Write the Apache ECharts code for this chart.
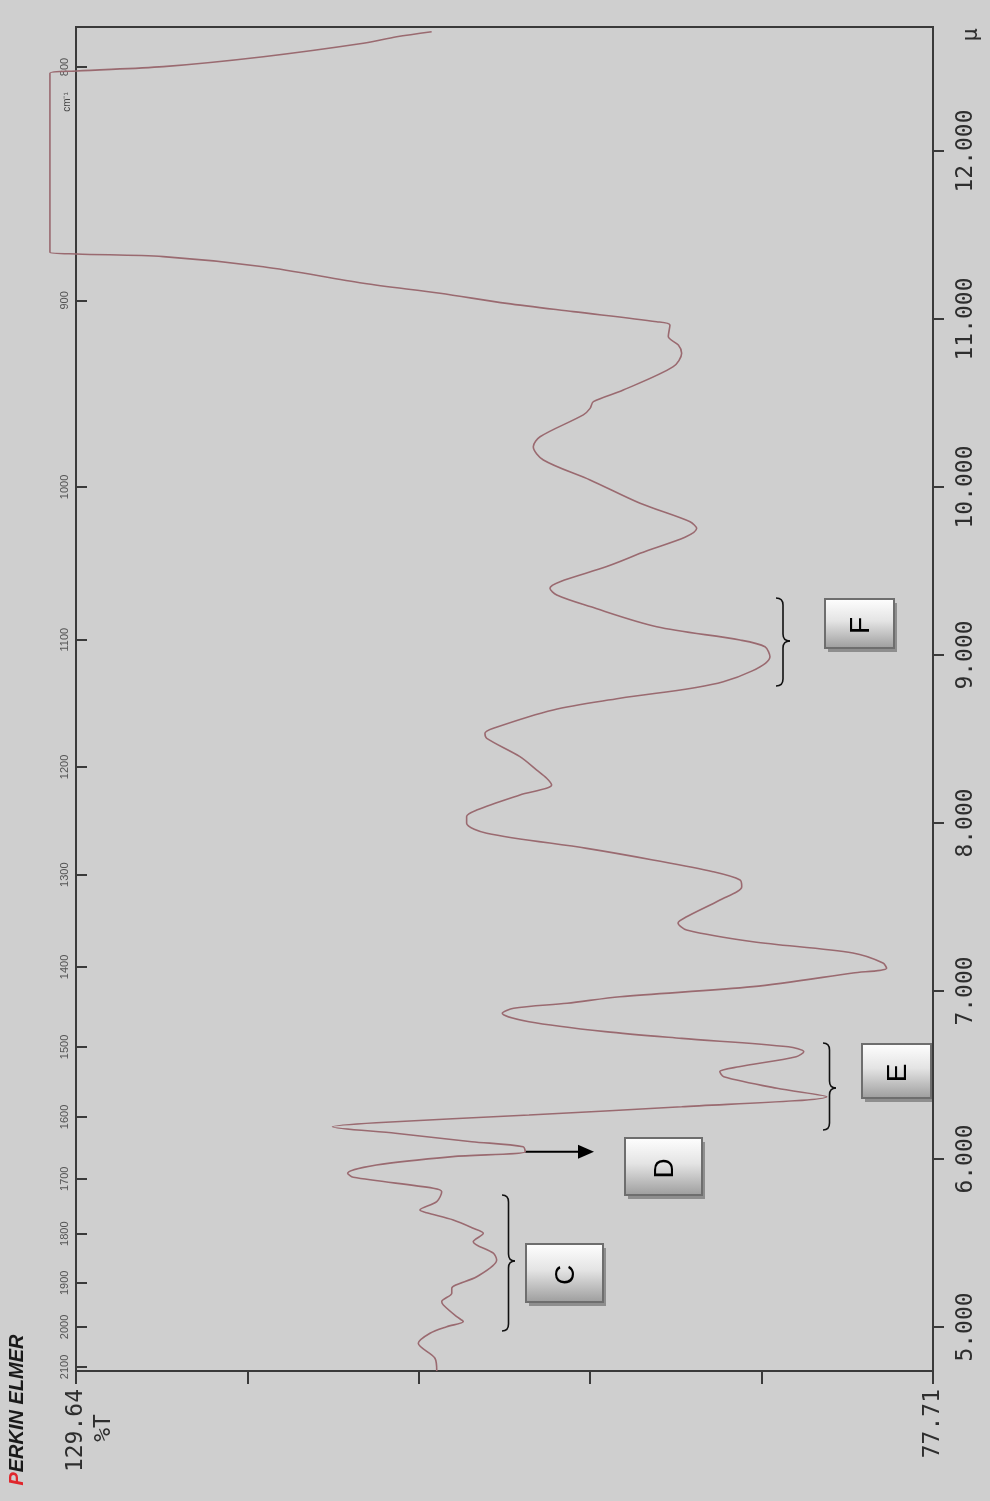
<!DOCTYPE html>
<html>
<head>
<meta charset="utf-8">
<script src="https://cdn.jsdelivr.net/npm/echarts@6/dist/echarts.min.js"></script>
<style>
  html, body { margin: 0; padding: 0; background: #cfcfcf; }
  #chart { width: 990px; height: 1501px; }
</style>
</head>
<body>
<div id="chart"></div>
<script>
// IR transmission spectrum: wavelength (µm) against %T, drawn in portrait orientation.
const wavelength = [
  4.738, 4.814, 4.903, 4.963, 5.002, 5.032, 5.061, 5.131, 5.151, 5.201,
  5.230, 5.299, 5.399, 5.439, 5.508, 5.558, 5.588, 5.637, 5.680, 5.696,
  5.746, 5.805, 5.826, 5.891, 5.915, 5.964, 6.014, 6.043, 6.073, 6.103,
  6.153, 6.192, 6.216, 6.262, 6.311, 6.371, 6.421, 6.490, 6.520, 6.549,
  6.609, 6.639, 6.668, 6.718, 6.758, 6.817, 6.867, 6.897, 6.927, 6.966,
  7.026, 7.107, 7.135, 7.167, 7.226, 7.293, 7.363, 7.405, 7.442, 7.542,
  7.621, 7.661, 7.710, 7.780, 7.849, 7.939, 7.998, 8.038, 8.077, 8.167,
  8.226, 8.266, 8.315, 8.395, 8.504, 8.534, 8.564, 8.673, 8.742, 8.841,
  8.990, 9.049, 9.089, 9.168, 9.288, 9.357, 9.397, 9.436, 9.526, 9.605,
  9.754, 9.793, 9.903, 10.042, 10.161, 10.240, 10.299, 10.429, 10.468, 10.508,
  10.577, 10.716, 10.796, 10.845, 10.895, 10.964, 10.984, 11.044, 11.093, 11.153,
  11.213, 11.311, 11.371, 11.387, 11.397, 12.463, 12.476, 12.502, 12.561, 12.641,
  12.680, 12.710
];
const transmittance = [
  107.78, 107.89, 108.90, 108.19, 107.18, 106.17, 106.57, 107.38, 107.48, 106.87,
  106.87, 105.36, 104.15, 104.35, 105.57, 104.96, 105.57, 106.78, 108.39, 108.80,
  107.78, 107.48, 107.99, 112.84, 113.18, 111.44, 106.81, 102.42, 102.54, 105.66,
  110.29, 114.10, 111.44, 102.19, 92.94, 84.15, 87.16, 90.39, 90.63, 89.47,
  86.00, 85.54, 86.47, 92.94, 97.57, 102.19, 103.81, 103.12, 99.88, 96.68,
  88.62, 82.56, 80.52, 80.74, 82.56, 88.62, 92.64, 93.16, 92.64, 90.62,
  89.30, 89.40, 91.04, 94.68, 98.69, 104.75, 105.97, 105.97, 105.36, 102.74,
  100.82, 101.12, 101.72, 102.74, 104.75, 104.86, 104.35, 100.72, 96.68, 90.42,
  87.59, 87.89, 89.40, 94.45, 98.49, 100.51, 100.92, 100.31, 97.48, 95.46,
  92.03, 92.43, 95.46, 98.49, 101.32, 101.93, 101.52, 98.90, 98.49, 98.29,
  96.48, 93.45, 92.94, 93.14, 93.75, 93.65, 94.45, 99.51, 103.54, 107.58,
  112.23, 118.29, 124.35, 129.60, 131.22, 131.22, 129.60, 124.35, 118.29, 112.23,
  110.21, 108.09
];

// Axis ranges and tick labels
const tRange = [77.71, 129.64];            // framed %T range
const tOverrange = 131.337;                // pen travel allowed beyond the frame
const tTicks = [77.71, 88.096, 98.482, 108.868, 119.254, 129.64];
const tLabels = [77.71, 129.64];
const muRange = [4.738, 12.738];
const muTicks = [5, 6, 7, 8, 9, 10, 11, 12];
const wavenumberTicks = [800, 900, 1000, 1100, 1200, 1300, 1400, 1500, 1600, 1700, 1800, 1900, 2000, 2100];

// Band annotations: letters and the point the D arrow starts from
const bandLetters = ['C', 'D', 'E', 'F'];
const arrowPointIndex = 27;

const chart = echarts.init(document.getElementById('chart'), null, { renderer: 'canvas' });

const monoFont = 'DejaVu Sans Mono';
const frameColor = '#3a3a3a';

chart.setOption({
  backgroundColor: '#cfcfcf',
  animation: false,
  grid: {
    left: 48, top: 27, width: 885, height: 1344,
    show: false
  },
  xAxis: {
    type: 'value',
    min: tRange[0], max: tOverrange,
    inverse: true,
    position: 'bottom',
    axisLine: { show: false },
    axisTick: { show: true, customValues: tTicks, length: 13, lineStyle: { color: frameColor, width: 2 } },
    axisLabel: {
      customValues: tLabels,
      rotate: 90,
      margin: 18,
      color: '#2e2e2e',
      fontFamily: monoFont,
      fontSize: 23,
      formatter: v => v.toFixed(2)
    },
    splitLine: { show: false }
  },
  yAxis: [
    {
      // wavenumber scale (cm-1), ticks inside the left edge of the frame
      type: 'value',
      min: muRange[0], max: muRange[1],
      position: 'left',
      offset: -28,
      axisLine: { show: false },
      axisTick: {
        show: true, inside: true, length: 11,
        customValues: wavenumberTicks.map(w => 10000 / w),
        lineStyle: { color: frameColor, width: 2 }
      },
      axisLabel: {
        customValues: wavenumberTicks.map(w => 10000 / w),
        rotate: 90,
        margin: 6,
        color: '#555',
        fontFamily: 'Liberation Sans',
        fontSize: 11,
        formatter: v => String(Math.round(10000 / v))
      },
      splitLine: { show: false }
    },
    {
      // wavelength scale (µm) on the right edge
      type: 'value',
      min: muRange[0], max: muRange[1],
      position: 'right',
      axisLine: { show: false },
      axisTick: { show: true, length: 11, customValues: muTicks, lineStyle: { color: frameColor, width: 2 } },
      axisLabel: {
        customValues: muTicks,
        rotate: 90,
        margin: 22,
        color: '#2e2e2e',
        fontFamily: monoFont,
        fontSize: 23,
        formatter: v => v.toFixed(3)
      },
      splitLine: { show: false }
    }
  ],
  series: [{
    type: 'line',
    xAxisIndex: 0,
    yAxisIndex: 1,
    data: wavelength.map((mu, i) => [transmittance[i], mu]),
    showSymbol: false,
    smooth: 0.3,
    clip: false,
    lineStyle: { color: '#9a6a70', width: 1.6 },
    z: 3
  }]
});

// Curly brace opening to the left, tip pointing right at (R, M)
function brace(L, R, T, M, B) {
  const c = (L + R) / 2;
  const r = 7;
  const st = { stroke: '#111', lineWidth: 1.6, fill: null };
  return {
    type: 'group',
    children: [
      { type: 'bezierCurve', shape: { x1: L, y1: T, cpx1: c, cpy1: T, x2: c, y2: T + r }, style: st },
      { type: 'line', shape: { x1: c, y1: T + r, x2: c, y2: M - r }, style: st },
      { type: 'bezierCurve', shape: { x1: c, y1: M - r, cpx1: c, cpy1: M, x2: R, y2: M }, style: st },
      { type: 'bezierCurve', shape: { x1: R, y1: M, cpx1: c, cpy1: M, x2: c, y2: M + r }, style: st },
      { type: 'line', shape: { x1: c, y1: M + r, x2: c, y2: B - r }, style: st },
      { type: 'bezierCurve', shape: { x1: c, y1: B - r, cpx1: c, cpy1: B, x2: L, y2: B }, style: st }
    ]
  };
}

// Labelled box with a vertical grey gradient and drop shadow
function labelBox(x, y, w, h, letter) {
  return {
    type: 'group',
    children: [
      { type: 'rect', shape: { x: x + 3, y: y + 4, width: w, height: h }, style: { fill: '#8e8e8e' } },
      {
        type: 'rect', shape: { x: x, y: y, width: w, height: h },
        style: {
          fill: new echarts.graphic.LinearGradient(0, 0, 0, 1, [
            { offset: 0, color: '#ffffff' },
            { offset: 0.45, color: '#e4e4e4' },
            { offset: 1, color: '#9c9c9c' }
          ]),
          stroke: '#6e6e6e', lineWidth: 2
        }
      },
      {
        type: 'text', x: x + w / 2 + 2, y: y + h / 2 + 2, rotation: Math.PI / 2,
        style: { text: letter, fill: '#000', font: '28px "Liberation Sans"', align: 'center', verticalAlign: 'middle' }
      }
    ]
  };
}

// Frame corners from the axis scales
const topLeft = chart.convertToPixel({ xAxisIndex: 0, yAxisIndex: 1 }, [tRange[1], muRange[1]]);
const bottomRight = chart.convertToPixel({ xAxisIndex: 0, yAxisIndex: 1 }, [tRange[0], muRange[0]]);

const arrowStart = chart.convertToPixel({ xAxisIndex: 0, yAxisIndex: 1 },
  [transmittance[arrowPointIndex], wavelength[arrowPointIndex]]);
const ay = arrowStart[1];

chart.setOption({
  graphic: [
    // plot frame
    {
      type: 'rect', z: 2,
      shape: { x: topLeft[0], y: topLeft[1], width: bottomRight[0] - topLeft[0], height: bottomRight[1] - topLeft[1] },
      style: { fill: null, stroke: frameColor, lineWidth: 2 }
    },
    // logo and axis captions
    {
      type: 'text', x: 17, y: 1410, rotation: Math.PI / 2,
      style: {
        text: '{r|P}{k|ERKIN ELMER}',
        font: 'italic bold 20px "Liberation Sans"',
        align: 'center', verticalAlign: 'middle',
        rich: {
          r: { fill: '#e0262c', font: 'italic bold 20px "Liberation Sans"' },
          k: { fill: '#1a1a1a', font: 'italic bold 20px "Liberation Sans"' }
        }
      }
    },
    {
      type: 'text', x: 104, y: 1428, rotation: Math.PI / 2,
      style: { text: '%T', fill: '#2e2e2e', font: '23px "' + monoFont + '"', align: 'center', verticalAlign: 'middle' }
    },
    {
      type: 'text', x: 67, y: 102, rotation: Math.PI / 2,
      style: { text: 'cm⁻¹', fill: '#444', font: '10px "Liberation Sans"', align: 'center', verticalAlign: 'middle' }
    },
    {
      type: 'text', x: 971, y: 35, rotation: Math.PI / 2,
      style: { text: 'µ', fill: '#2e2e2e', font: '22px "' + monoFont + '"', align: 'center', verticalAlign: 'middle' }
    },
    // band brackets
    brace(776, 790, 598, 641, 686),
    brace(823, 836, 1043, 1088, 1130),
    brace(502, 515, 1195, 1261, 1331),
    // arrow from the shoulder to box D
    { type: 'line', shape: { x1: arrowStart[0], y1: ay, x2: 580, y2: ay }, style: { stroke: '#000', lineWidth: 2 } },
    { type: 'polygon', shape: { points: [[578, ay - 7], [594, ay], [578, ay + 7]] }, style: { fill: '#000' } },
    // label boxes
    labelBox(526, 1244, 77, 58, bandLetters[0]),
    labelBox(625, 1138, 77, 57, bandLetters[1]),
    labelBox(862, 1044, 69, 54, bandLetters[2]),
    labelBox(825, 599, 69, 49, bandLetters[3])
  ]
});
</script>
</body>
</html>
